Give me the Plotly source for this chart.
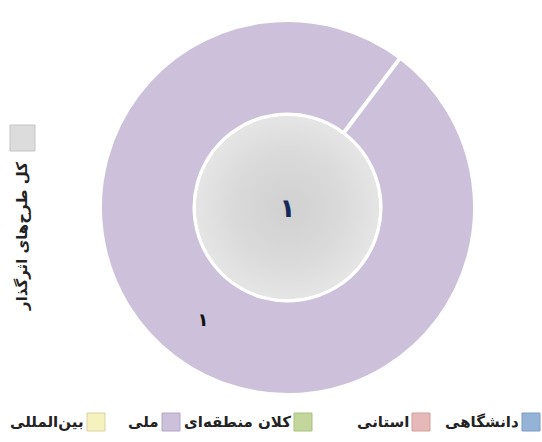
import math
import plotly.graph_objects as go

# Project scope categories (legend order, right to left) and their counts
categories = ["دانشگاهی", "استانی", "کلان منطقه‌ای", "ملی", "بین‌المللی"]
counts = [0, 0, 0, 1, 0]
colors = ["#95b3d7", "#e6b9b8", "#c3d69b", "#ccc0da", "#f6f2c0"]
border_colors = ["#7d9cc4", "#cf9f9e", "#a9bf7f", "#b3a6c6", "#d9d49c"]

total_label = "کل طرح‌های اثرگذار"
total_value = sum(counts)

W, H = 542, 442
CX, CY = 287.5, 207.5       # ring centre, pixels from top-left
R_OUT = 187                 # outer ring radius
HOLE = 0.5
R_IN = 93                   # centre disc radius
START_DEG = 37              # first slice starts here, clockwise from 12 o'clock


def fa_digits(n):
    return str(n).translate(str.maketrans("0123456789", "۰۱۲۳۴۵۶۷۸۹"))


def domain(r):
    return dict(
        x=[(CX - r) / W, (CX + r) / W],
        y=[(H - CY - r) / H, (H - CY + r) / H],
    )


FONT = "DejaVu Sans"

fig = go.Figure()

# soft radial shading behind the centre disc (pixel-space axes)
n = 181
disc_x = [CX + (R_IN - 1) * math.cos(2 * math.pi * i / (n - 1)) for i in range(n)]
disc_y = [CY + (R_IN - 1) * math.sin(2 * math.pi * i / (n - 1)) for i in range(n)]
fig.add_trace(go.Scatter(
    x=disc_x, y=disc_y, mode="lines", fill="toself",
    line=dict(width=0, color="rgba(0,0,0,0)"),
    fillgradient=dict(type="radial",
                      colorscale=[[0, "#d0d0d0"], [0.6, "#dadada"], [1, "#e5e5e5"]]),
    hoverinfo="skip", showlegend=False,
))

# outer ring: one slice per category
fig.add_trace(go.Pie(
    labels=categories,
    values=counts,
    text=[fa_digits(v) if v else "" for v in counts],
    textinfo="text",
    textposition="inside",
    insidetextorientation="horizontal",
    textfont=dict(family=FONT, size=18, color="#111111", weight="bold"),
    marker=dict(colors=colors, line=dict(color="white", width=3)),
    hole=HOLE,
    sort=False,
    direction="clockwise",
    rotation=START_DEG,
    domain=domain(R_OUT),
    showlegend=False,
    hoverinfo="label+value",
))

# centre disc: total number of projects
fig.add_trace(go.Pie(
    labels=[total_label],
    values=[total_value],
    text=[fa_digits(total_value)],
    textinfo="text",
    textposition="inside",
    textfont=dict(family=FONT, size=26, color="#16285a", weight="bold"),
    marker=dict(colors=["rgba(0,0,0,0)"], line=dict(color="white", width=2.5)),
    sort=False,
    domain=domain(R_IN),
    showlegend=False,
    hoverinfo="label+value",
))

shapes = []
annotations = []

# white separator at the start of the first slice
a = math.radians(START_DEG)
r0, r1 = R_OUT * HOLE, R_OUT
shapes.append(dict(
    type="line", xref="paper", yref="paper",
    x0=(CX + r0 * math.sin(a)) / W, y0=(H - (CY - r0 * math.cos(a))) / H,
    x1=(CX + r1 * math.sin(a)) / W, y1=(H - (CY - r1 * math.cos(a))) / H,
    line=dict(color="white", width=4),
))

# left-side key for the centre disc
shapes.append(dict(
    type="rect", xref="paper", yref="paper",
    x0=10 / W, x1=35 / W, y0=(H - 151) / H, y1=(H - 125) / H,
    fillcolor="#dcdcdc", line=dict(color="#c4c4c4", width=1),
))
annotations.append(dict(
    text=total_label, textangle=-90, showarrow=False,
    xref="paper", yref="paper", x=22 / W, y=(H - 237) / H,
    xanchor="center", yanchor="middle",
    font=dict(family=FONT, size=15, color="#222222", weight="bold"),
))

# bottom key, swatch to the right of each label (right-to-left)
SW = 18
swatch_right = [540, 430, 312, 180, 105]
key_y = 422
for name, col, bcol, xr in zip(categories, colors, border_colors, swatch_right):
    shapes.append(dict(
        type="rect", xref="paper", yref="paper",
        x0=(xr - SW) / W, x1=xr / W,
        y0=(H - key_y - SW / 2) / H, y1=(H - key_y + SW / 2) / H,
        fillcolor=col, line=dict(color=bcol, width=1),
    ))
    annotations.append(dict(
        text=name, showarrow=False, xref="paper", yref="paper",
        x=(xr - SW - 1) / W, y=(H - key_y) / H,
        xanchor="right", yanchor="middle",
        font=dict(family=FONT, size=15, color="#222222", weight="bold"),
    ))

fig.update_layout(
    width=W, height=H,
    margin=dict(l=0, r=0, t=0, b=0),
    paper_bgcolor="white",
    plot_bgcolor="white",
    xaxis=dict(range=[0, W], domain=[0, 1], visible=False, fixedrange=True),
    yaxis=dict(range=[H, 0], domain=[0, 1], visible=False, fixedrange=True),
    shapes=shapes,
    annotations=annotations,
)

fig.write_html("out.html")
